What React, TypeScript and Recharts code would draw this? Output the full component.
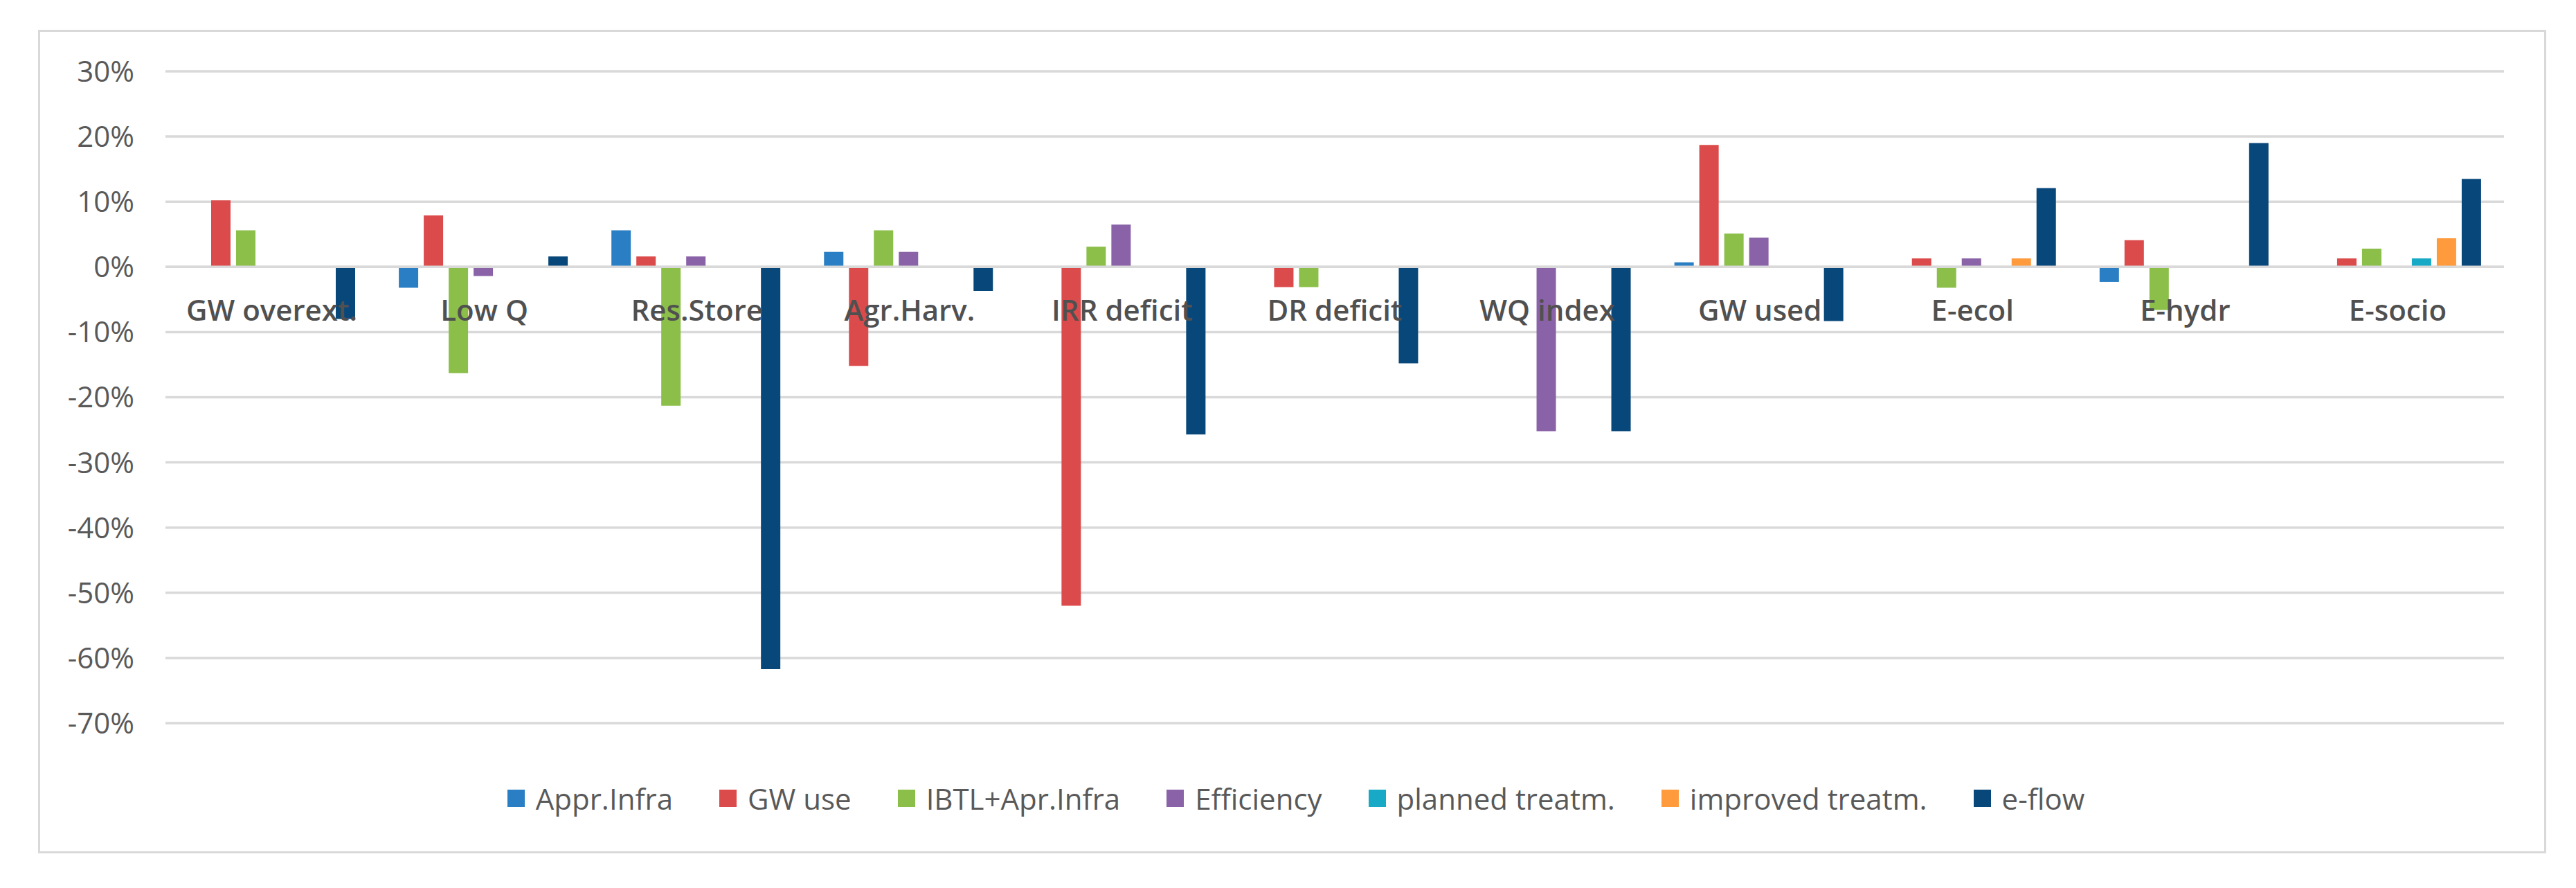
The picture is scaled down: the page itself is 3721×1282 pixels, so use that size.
import React from 'react';
import { BarChart, Bar, XAxis, YAxis, CartesianGrid, Legend, ReferenceLine } from 'recharts';

const categories = [
  'GW overext.', 'Low Q', 'Res.Store', 'Agr.Harv.', 'IRR deficit', 'DR deficit',
  'WQ index', 'GW used', 'E-ecol', 'E-hydr', 'E-socio',
];

// values in percent
const apprInfra = [0, -3.2, 5.6, 2.3, 0, 0, 0, 0.7, 0, -2.3, 0];
const gwUse = [10.2, 7.9, 1.6, -15.2, -52, -3.1, 0, 18.7, 1.3, 4.1, 1.3];
const ibtlInfra = [5.6, -16.3, -21.3, 5.6, 3.1, -3.1, 0, 5.1, -3.2, -6.6, 2.8];
const efficiency = [0, -1.4, 1.6, 2.3, 6.5, 0, -25.2, 4.5, 1.3, 0, 0];
const plannedTreatm = [0, 0, 0, 0, 0, 0, 0, 0, 0, 0, 1.3];
const improvedTreatm = [0, 0, 0, 0, 0, 0, 0, 0, 1.3, 0, 4.4];
const eFlow = [-8, 1.6, -61.7, -3.7, -25.7, -14.8, -25.2, -8.3, 12.1, 19, 13.5];

const yTicks = [-70, -60, -50, -40, -30, -20, -10, 0, 10, 20, 30];

const series = [
  { key: 'apprInfra', name: 'Appr.Infra', values: apprInfra, color: '#2a7ec3' },
  { key: 'gwUse', name: 'GW use', values: gwUse, color: '#dc4b4b' },
  { key: 'ibtlInfra', name: 'IBTL+Apr.Infra', values: ibtlInfra, color: '#8bbf4a' },
  { key: 'efficiency', name: 'Efficiency', values: efficiency, color: '#8a62a8' },
  { key: 'plannedTreatm', name: 'planned treatm.', values: plannedTreatm, color: '#17a9c6' },
  { key: 'improvedTreatm', name: 'improved treatm.', values: improvedTreatm, color: '#ff9a3d' },
  { key: 'eFlow', name: 'e-flow', values: eFlow, color: '#08477a' },
];

const data = categories.map((cat, i) => {
  const row: Record<string, string | number> = { cat };
  series.forEach((s) => {
    row[s.key] = s.values[i];
  });
  return row;
});

const FONT = '"Open Sans", "Noto Sans", sans-serif';
const CHART_W = 3617;
const CHART_H = 1183;
const PLOT_H = 941;
const Y_MIN = -70;
const Y_MAX = 30;

// category labels sit just under the zero line, like Excel's "next to axis"
function CategoryTick(props: any) {
  const { x, y, payload } = props;
  const zeroY = y - PLOT_H * ((0 - Y_MIN) / (Y_MAX - Y_MIN));
  return (
    <text
      x={x}
      y={zeroY + 63}
      dy="0.36em"
      textAnchor="middle"
      fill="#505050"
      fontFamily={FONT}
      fontSize={42}
      fontWeight={600}
    >
      {payload.value}
    </text>
  );
}

function LegendContent() {
  return (
    <div
      style={{
        display: 'flex',
        justifyContent: 'center',
        alignItems: 'center',
        height: 56,
        paddingLeft: 11,
        fontFamily: FONT,
        fontSize: 42,
        color: '#595959',
      }}
    >
      {series.map((s, i) => (
        <div
          key={s.key}
          style={{ display: 'flex', alignItems: 'center', marginLeft: i === 0 ? 0 : 67 }}
        >
          <span style={{ display: 'inline-block', width: 25, height: 25, background: s.color, marginRight: 16 }} />
          <span>{s.name}</span>
        </div>
      ))}
    </div>
  );
}

export default function App() {
  return (
    <div style={{ position: 'absolute', left: 0, top: 0, width: 3721, height: 1282, background: '#fff' }}>
      <div
        style={{
          position: 'absolute',
          left: 55,
          top: 43,
          width: 3623,
          height: 1189,
          boxSizing: 'border-box',
          border: '3px solid #d9d9d9',
          background: '#fff',
        }}
      >
        <BarChart
          width={CHART_W}
          height={CHART_H}
          data={data}
          margin={{ top: 57, right: 58, bottom: 184, left: 0 }}
          barCategoryGap={30}
          barGap={8}
        >
          <CartesianGrid vertical={false} stroke="#d9d9d9" strokeWidth={3.5} />
          <XAxis
            dataKey="cat"
            height={1}
            axisLine={false}
            tickLine={false}
            tickSize={0}
            tickMargin={0}
            interval={0}
            tick={<CategoryTick />}
          />
          <YAxis
            width={181}
            domain={[Y_MIN, Y_MAX]}
            ticks={yTicks}
            interval={0}
            axisLine={false}
            tickLine={false}
            tickSize={0}
            tickMargin={45}
            tickFormatter={(v: number) => `${v}%`}
            tick={{ fill: '#595959', fontSize: 42, fontFamily: FONT }}
          />
          {series.map((s) => (
            <Bar key={s.key} dataKey={s.key} name={s.name} fill={s.color} isAnimationActive={false} />
          ))}
          <ReferenceLine y={0} stroke="#d9d9d9" strokeWidth={3.5} />
          <Legend
            layout="horizontal"
            verticalAlign="middle"
            align="center"
            width={CHART_W}
            wrapperStyle={{ top: 1078, left: 0, width: CHART_W }}
            content={<LegendContent />}
          />
        </BarChart>
      </div>
    </div>
  );
}
